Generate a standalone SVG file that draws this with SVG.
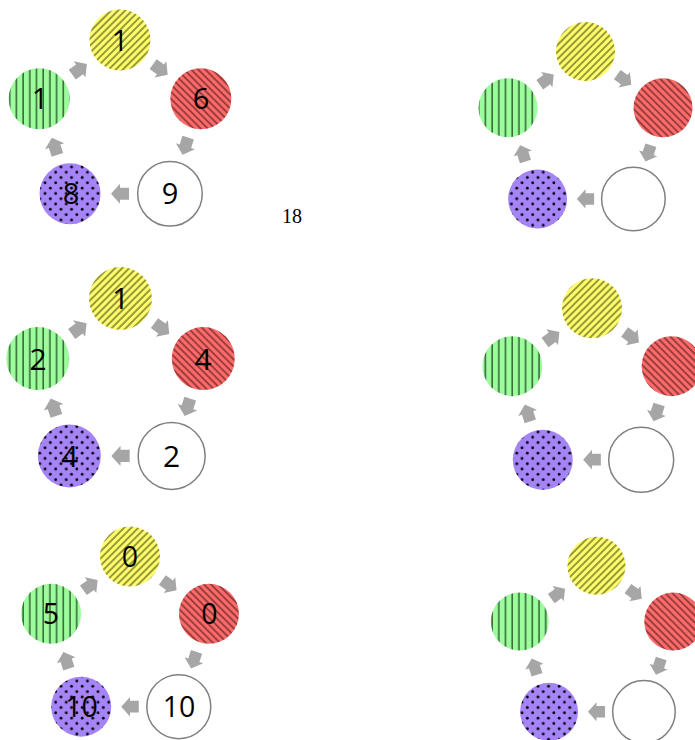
<svg xmlns="http://www.w3.org/2000/svg" xmlns:xlink="http://www.w3.org/1999/xlink" width="695" height="740" viewBox="0 0 695 740">
<style>
.y{fill:url(#pY)}.r{fill:url(#pR)}.g{fill:url(#pG)}.p{fill:url(#pP)}
.w{fill:#ffffff;stroke:#808080;stroke-width:1.5}
.t{font-family:"Open Sans","Noto Sans",sans-serif;fill:#000;text-anchor:middle}
.a{fill:#a6a6a6}
</style>
<defs>
<pattern id="pY" patternUnits="userSpaceOnUse" width="5" height="10" patternTransform="rotate(45)">
<rect width="5" height="10" fill="#ffff6e"/><line x1="1" y1="0" x2="1" y2="10" stroke="#333300" stroke-width="1"/>
</pattern>
<pattern id="pR" patternUnits="userSpaceOnUse" width="5" height="10" patternTransform="rotate(-45)">
<rect width="5" height="10" fill="#ff6b6b"/><line x1="1" y1="0" x2="1" y2="10" stroke="#3a1010" stroke-width="1"/>
</pattern>
<pattern id="pG" patternUnits="userSpaceOnUse" width="6.7" height="10">
<rect width="6.7" height="10" fill="#9cfd9c"/><line x1="3" y1="0" x2="3" y2="10" stroke="#1a3a1a" stroke-width="1.2"/>
</pattern>
<pattern id="pP" patternUnits="userSpaceOnUse" width="10.6" height="10.6">
<rect width="10.6" height="10.6" fill="#a584f8"/><circle cx="2.65" cy="2.65" r="1.4" fill="#000"/><circle cx="7.95" cy="7.95" r="1.4" fill="#000"/>
</pattern>
<path id="arr" class="a" d="M9 0L0 -10L0 -6L-9 -6L-9 6L0 6L0 10Z"/>
</defs>

<!-- Diagram 1 -->
<g id="d1">
<g id="d1-yellow"><circle class="y" cx="120" cy="40" r="30.5"/><text class="t" x="120" y="50.5" font-size="29">1</text></g>
<g id="d1-red"><circle class="r" cx="200.84" cy="98.74" r="30.5"/><text class="t" x="201" y="109" font-size="29">6</text></g>
<g id="d1-white"><circle class="w" cx="169.96" cy="193.77" r="32.3"/><text class="t" x="170" y="204" font-size="29">9</text></g>
<g id="d1-purple"><circle class="p" cx="70.04" cy="193.77" r="30.5"/><text class="t" x="71" y="204" font-size="29">8</text></g>
<g id="d1-green"><circle class="g" cx="39.16" cy="98.74" r="30.5"/><text class="t" x="40" y="109" font-size="29">1</text></g>
<g id="d1-connectors">
<use xlink:href="#arr" transform="translate(160.42 69.37) rotate(36)"/>
<use xlink:href="#arr" transform="translate(185.40 146.25) rotate(108)"/>
<use xlink:href="#arr" transform="translate(120 193.77) rotate(180)"/>
<use xlink:href="#arr" transform="translate(54.60 146.25) rotate(252)"/>
<use xlink:href="#arr" transform="translate(79.58 69.37) rotate(-36)"/>
</g>
</g>

<text x="292" y="223" font-family="Liberation Serif,serif" font-size="20" text-anchor="middle" fill="#000">18</text>

<!-- Diagram 2 -->
<g id="d2">
<g id="d2-yellow"><circle class="y" cx="120.5" cy="298.5" r="31.5"/><text class="t" x="120.5" y="309" font-size="30">1</text></g>
<g id="d2-red"><circle class="r" cx="203.25" cy="358.62" r="31.5"/><text class="t" x="203" y="369.5" font-size="30">4</text></g>
<g id="d2-white"><circle class="w" cx="171.64" cy="455.88" r="33.5"/><text class="t" x="171.5" y="466.5" font-size="30">2</text></g>
<g id="d2-purple"><circle class="p" cx="69.36" cy="455.88" r="31.5"/><text class="t" x="69.5" y="466.5" font-size="30">4</text></g>
<g id="d2-green"><circle class="g" cx="37.75" cy="358.62" r="31.5"/><text class="t" x="38" y="369.5" font-size="30">2</text></g>
<g id="d2-connectors">
<use xlink:href="#arr" transform="translate(161.87 328.56) rotate(36) scale(1.02)"/>
<use xlink:href="#arr" transform="translate(187.44 407.25) rotate(108) scale(1.02)"/>
<use xlink:href="#arr" transform="translate(120.5 455.88) rotate(180) scale(1.02)"/>
<use xlink:href="#arr" transform="translate(53.56 407.25) rotate(252) scale(1.02)"/>
<use xlink:href="#arr" transform="translate(79.13 328.56) rotate(-36) scale(1.02)"/>
</g>
</g>

<!-- Diagram 3 -->
<g id="d3">
<g id="d3-yellow"><circle class="y" cx="130" cy="556.5" r="30"/><text class="t" x="130" y="566.5" font-size="28.5">0</text></g>
<g id="d3-red"><circle class="r" cx="208.94" cy="613.85" r="30"/><text class="t" x="209.5" y="623.5" font-size="28.5">0</text></g>
<g id="d3-white"><circle class="w" cx="178.79" cy="706.65" r="32"/><text class="t" x="179" y="717" font-size="28.5">10</text></g>
<g id="d3-purple"><circle class="p" cx="81.21" cy="706.65" r="30"/><text class="t" x="81.5" y="717" font-size="28.5">10</text></g>
<g id="d3-green"><circle class="g" cx="51.06" cy="613.85" r="30"/><text class="t" x="51" y="623.5" font-size="28.5">5</text></g>
<g id="d3-connectors">
<use xlink:href="#arr" transform="translate(169.47 585.18) rotate(36) scale(0.976)"/>
<use xlink:href="#arr" transform="translate(193.86 660.25) rotate(108) scale(0.976)"/>
<use xlink:href="#arr" transform="translate(130 706.65) rotate(180) scale(0.976)"/>
<use xlink:href="#arr" transform="translate(66.14 660.25) rotate(252) scale(0.976)"/>
<use xlink:href="#arr" transform="translate(90.53 585.18) rotate(-36) scale(0.976)"/>
</g>
</g>

<!-- Diagram 4 -->
<g id="d4">
<g id="d4-yellow"><circle class="y" cx="585.5" cy="51.5" r="29.5"/></g>
<g id="d4-red"><circle class="r" cx="663.01" cy="107.82" r="29.5"/></g>
<g id="d4-white"><circle class="w" cx="633.41" cy="198.93" r="31.8"/></g>
<g id="d4-purple"><circle class="p" cx="537.59" cy="198.93" r="29.5"/></g>
<g id="d4-green"><circle class="g" cx="507.99" cy="107.82" r="29.5"/></g>
<g id="d4-connectors">
<use xlink:href="#arr" transform="translate(624.25 79.66) rotate(36) scale(0.959)"/>
<use xlink:href="#arr" transform="translate(648.21 153.38) rotate(108) scale(0.959)"/>
<use xlink:href="#arr" transform="translate(585.5 198.93) rotate(180) scale(0.959)"/>
<use xlink:href="#arr" transform="translate(522.79 153.38) rotate(252) scale(0.959)"/>
<use xlink:href="#arr" transform="translate(546.75 79.66) rotate(-36) scale(0.959)"/>
</g>
</g>

<!-- Diagram 5 -->
<g id="d5">
<g id="d5-yellow"><circle class="y" cx="592" cy="308.3" r="30"/></g>
<g id="d5-red"><circle class="r" cx="671.61" cy="366.14" r="30"/></g>
<g id="d5-white"><circle class="w" cx="641.2" cy="459.71" r="32.5"/></g>
<g id="d5-purple"><circle class="p" cx="542.8" cy="459.71" r="30"/></g>
<g id="d5-green"><circle class="g" cx="512.39" cy="366.14" r="30"/></g>
<g id="d5-connectors">
<use xlink:href="#arr" transform="translate(631.8 337.22) rotate(36) scale(0.985)"/>
<use xlink:href="#arr" transform="translate(656.4 412.93) rotate(108) scale(0.985)"/>
<use xlink:href="#arr" transform="translate(592 459.71) rotate(180) scale(0.985)"/>
<use xlink:href="#arr" transform="translate(527.6 412.93) rotate(252) scale(0.985)"/>
<use xlink:href="#arr" transform="translate(552.2 337.22) rotate(-36) scale(0.985)"/>
</g>
</g>

<!-- Diagram 6 -->
<g id="d6">
<g id="d6-yellow"><circle class="y" cx="596.5" cy="565.8" r="29"/></g>
<g id="d6-red"><circle class="r" cx="673.25" cy="621.56" r="29"/></g>
<g id="d6-white"><circle class="w" cx="643.94" cy="711.79" r="31.3"/></g>
<g id="d6-purple"><circle class="p" cx="549.06" cy="711.79" r="29"/></g>
<g id="d6-green"><circle class="g" cx="519.75" cy="621.56" r="29"/></g>
<g id="d6-connectors">
<use xlink:href="#arr" transform="translate(634.87 593.68) rotate(36) scale(0.949)"/>
<use xlink:href="#arr" transform="translate(658.59 666.68) rotate(108) scale(0.949)"/>
<use xlink:href="#arr" transform="translate(596.5 711.79) rotate(180) scale(0.949)"/>
<use xlink:href="#arr" transform="translate(534.41 666.68) rotate(252) scale(0.949)"/>
<use xlink:href="#arr" transform="translate(558.13 593.68) rotate(-36) scale(0.949)"/>
</g>
</g>
</svg>
